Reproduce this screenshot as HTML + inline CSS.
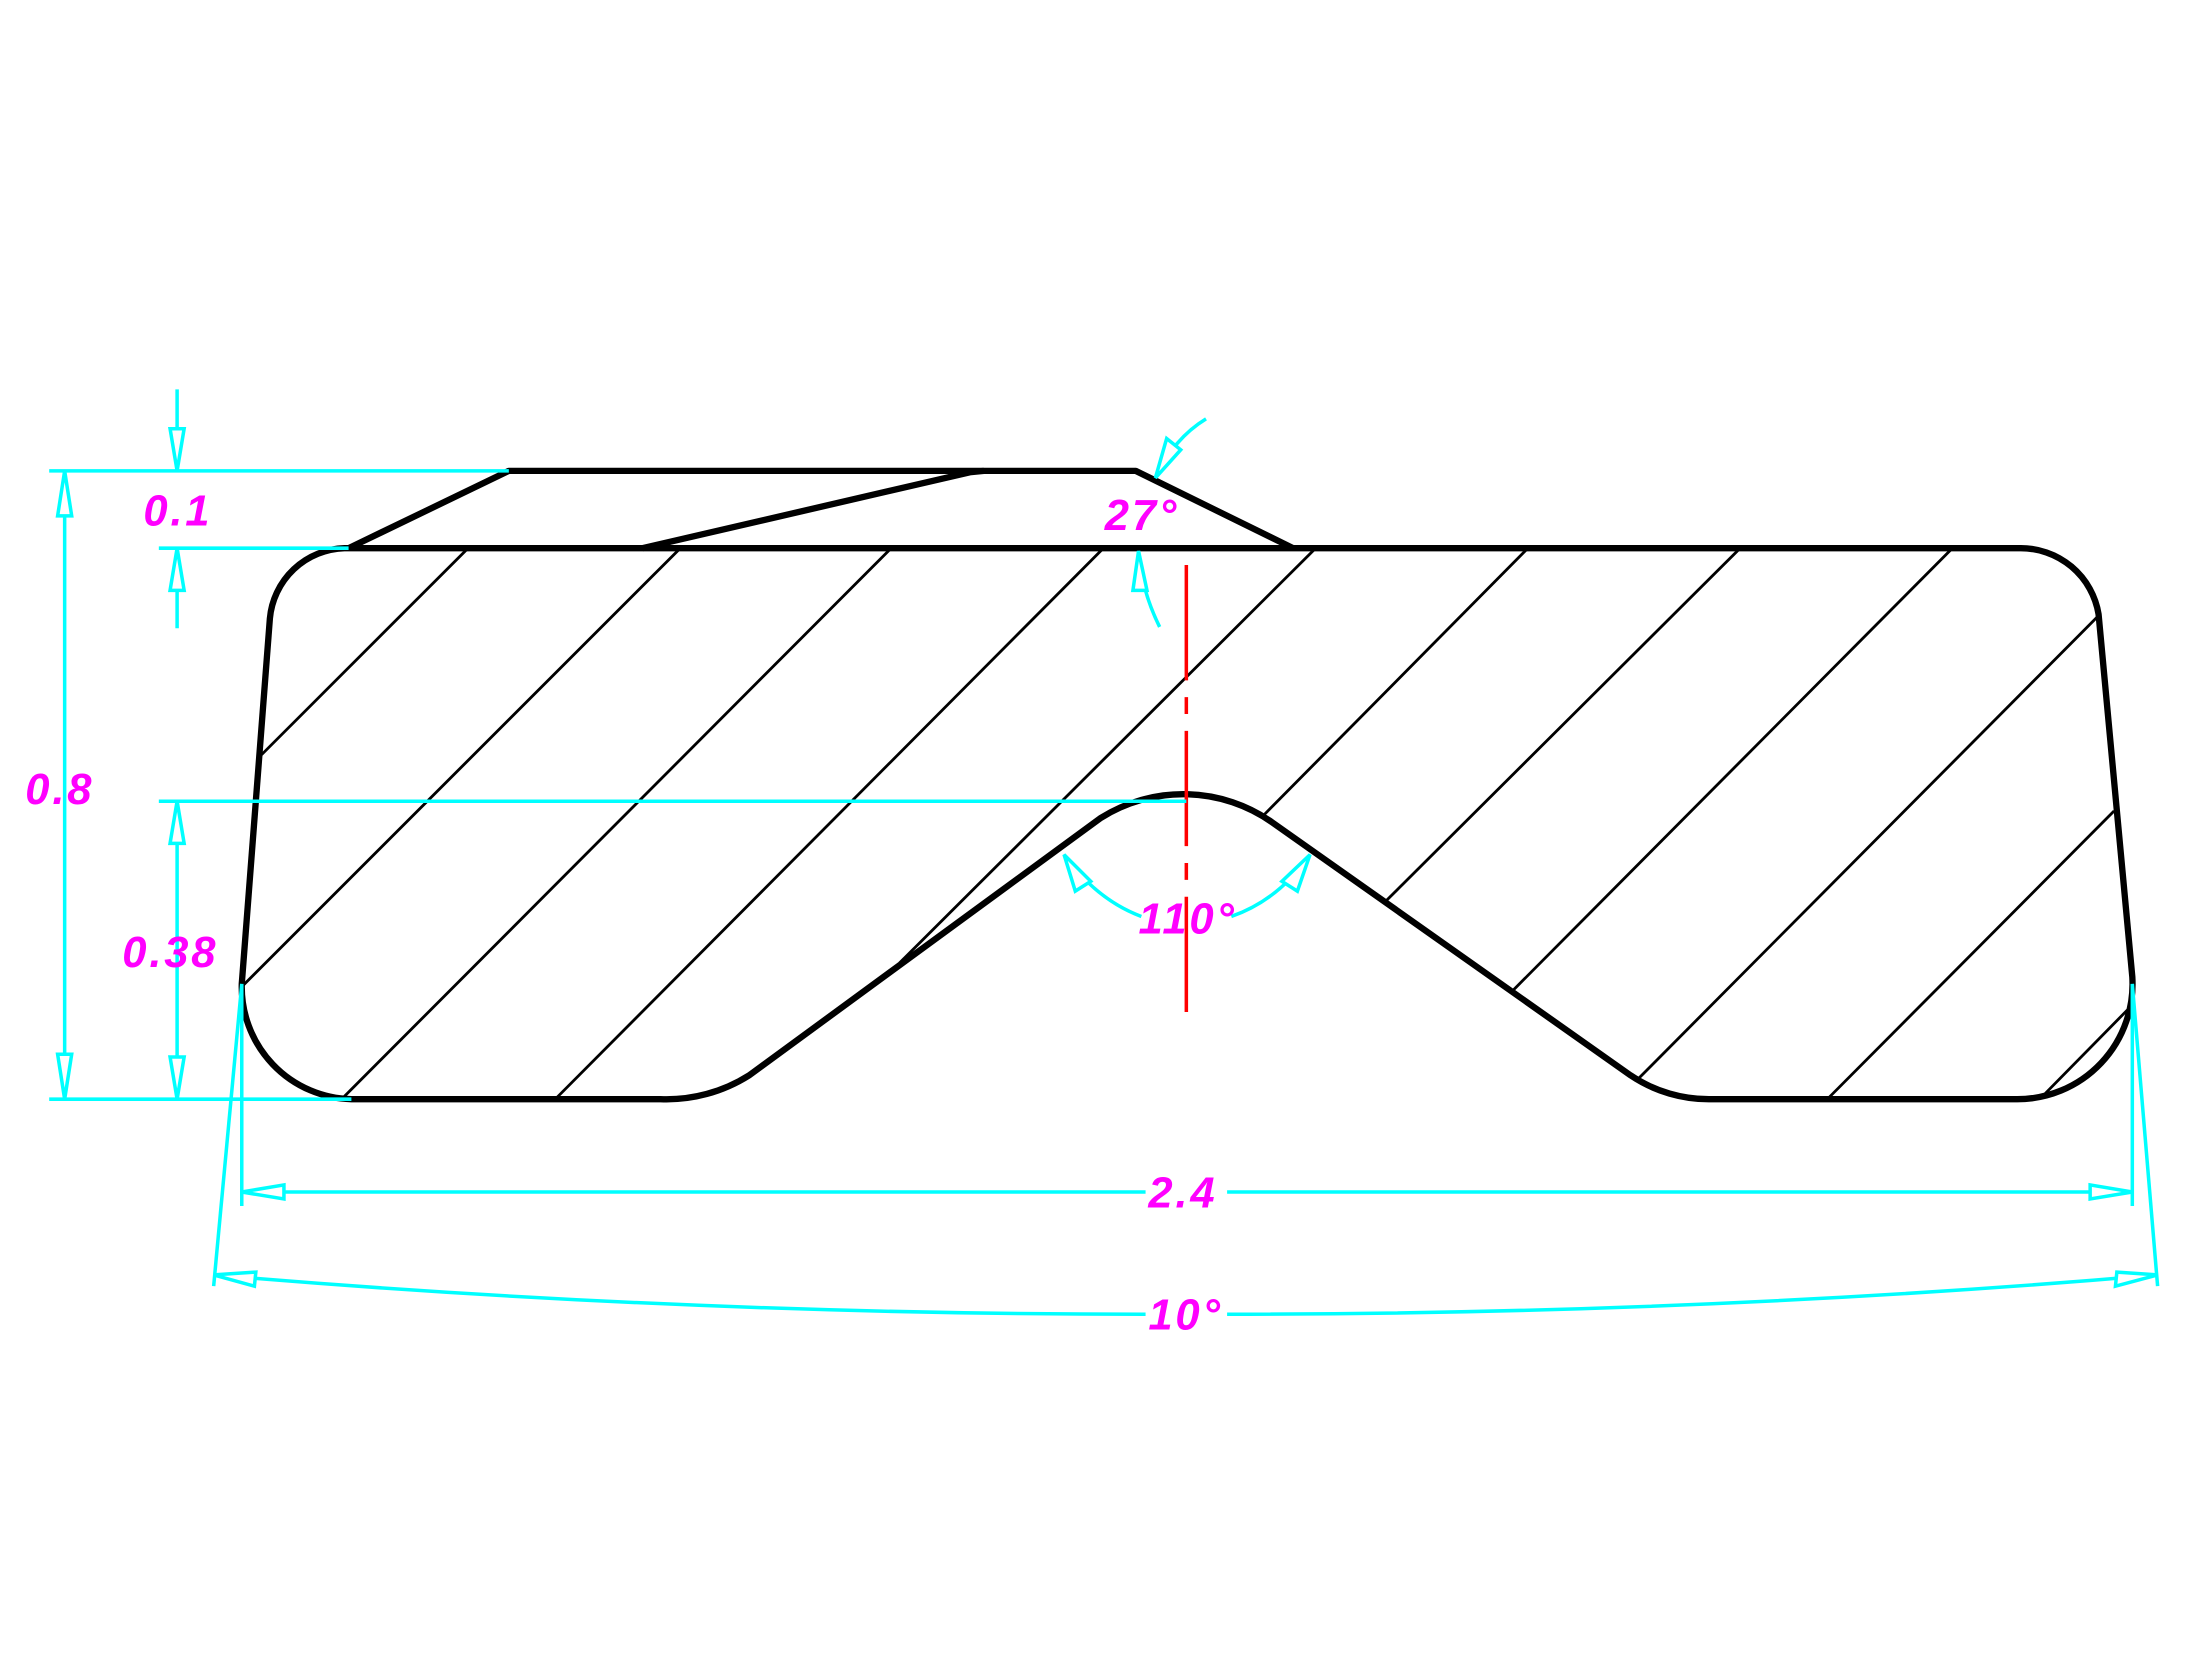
<!DOCTYPE html>
<html><head><meta charset="utf-8"><style>
html,body{margin:0;padding:0;background:#fff;}
svg{display:block;}
text{font-family:"Liberation Sans",sans-serif;font-style:italic;font-weight:bold;fill:#ff00ff;font-size:31px;letter-spacing:2px;}
</style></head><body>
<svg width="2204" height="1653" viewBox="0 0 1568 1176" preserveAspectRatio="none" xmlns="http://www.w3.org/2000/svg">
<g fill="none" stroke="#000" stroke-width="4.5" stroke-linejoin="round">
<path d="M245,390 L1437,390 A56,56 0 0 1 1493,437 L1517,695 A82,82 0 0 1 1435,782 L1218,782 A100,100 0 0 1 1160,765 L905,585 A110,110 0 0 0 783,582 L533,765 A110,110 0 0 1 470,782 L250,782 A80,80 0 0 1 172,700 L192,440 A55,55 0 0 1 245,390 Z"/>
<path d="M248,390 L362,335 L808,335 L920,390"/>
<path d="M457,390 L690,336 L700,335"/>
</g>
<g stroke="#000" stroke-width="2">
<line x1="186" y1="537" x2="332" y2="391"/>
<line x1="172" y1="702" x2="483" y2="391"/>
<line x1="245" y1="780" x2="633" y2="391"/>
<line x1="395" y1="782" x2="784" y2="391"/>
<line x1="640" y1="685" x2="935" y2="391"/>
<line x1="897" y1="582" x2="1086" y2="391"/>
<line x1="985" y1="642" x2="1237" y2="391"/>
<line x1="1075" y1="706" x2="1388" y2="391"/>
<line x1="1165" y1="768" x2="1493" y2="438"/>
<line x1="1300" y1="782" x2="1504" y2="577"/>
<line x1="1455" y1="778" x2="1515" y2="717"/>
</g>
<line x1="844" y1="402" x2="844" y2="732" stroke="#ff0000" stroke-width="2.5" stroke-dasharray="82,12,12,12"/>
<g stroke="#00ffff" stroke-width="2.5" fill="none">
<line x1="35" y1="335" x2="362" y2="335"/>
<line x1="113" y1="390" x2="248" y2="390"/>
<line x1="113" y1="570" x2="844" y2="570"/>
<line x1="35" y1="782" x2="250" y2="782"/>
<line x1="46" y1="335" x2="46" y2="782"/>
<line x1="126" y1="277" x2="126" y2="335"/>
<line x1="126" y1="390" x2="126" y2="447"/>
<line x1="126" y1="570" x2="126" y2="782"/>
<line x1="172" y1="700" x2="172" y2="858"/>
<line x1="1517" y1="700" x2="1517" y2="858"/>
<line x1="172" y1="848" x2="815" y2="848"/>
<line x1="873" y1="848" x2="1517" y2="848"/>
<line x1="172" y1="700" x2="152" y2="915"/>
<line x1="1517" y1="700" x2="1535" y2="915"/>
<path d="M152,907 Q480,935 815,935"/>
<path d="M873,935 Q1210,935 1535,907"/>
<path d="M822,340 Q835,312 858,298"/>
<path d="M810,392 Q812,420 825,446"/>
<path d="M757,608 Q780,640 812,652"/>
<path d="M876,652 Q910,640 932,608"/>
</g>
<g fill="#fff" stroke="#00ffff" stroke-width="2.5">
<polygon points="46,335 41,367 51,367"/>
<polygon points="46,782 41,750 51,750"/>
<polygon points="126,335 121,305 131,305"/>
<polygon points="126,390 121,420 131,420"/>
<polygon points="126,570 121,600 131,600"/>
<polygon points="126,782 121,752 131,752"/>
<polygon points="172,848 202,843 202,853"/>
<polygon points="1517,848 1487,843 1487,853"/>
<polygon points="152,907 182,905 181,915"/>
<polygon points="1535,907 1505,915 1506,905"/>
<polygon points="822,340 830,312 840,320"/>
<polygon points="810,392 806,420 816,420"/>
<polygon points="757,608 765,634 776,627"/>
<polygon points="932,608 912,627 923,634"/>
</g>
<text x="102" y="374">0.1</text>
<text x="18" y="572">0.8</text>
<text x="87" y="688">0.38</text>
<text x="786" y="377">27°</text>
<text x="810" y="664">110°</text>
<text x="817" y="859">2.4</text>
<text x="817" y="946">10°</text>
</svg>
</body></html>
